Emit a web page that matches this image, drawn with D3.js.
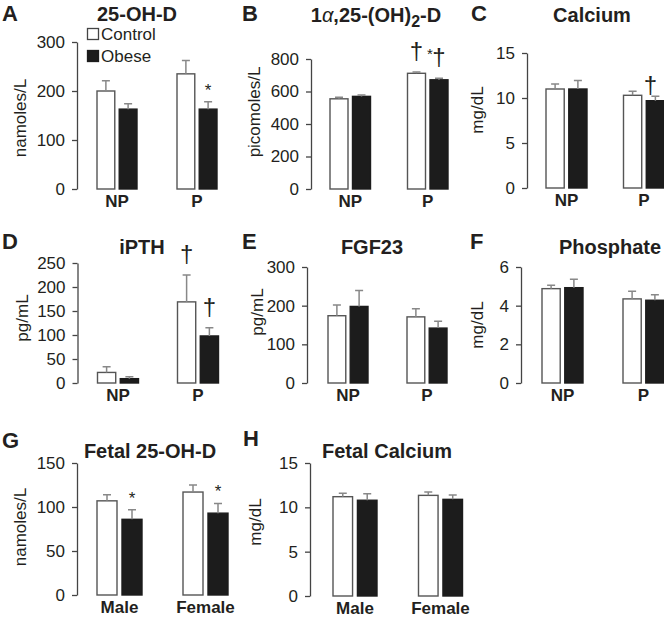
<!DOCTYPE html>
<html>
<head>
<meta charset="utf-8">
<script src="https://cdn.jsdelivr.net/npm/d3@7"></script>
<style>
  body { margin: 0; background: #fff; }
  text { font-family: "Liberation Sans", Arial, Helvetica, sans-serif; fill: #231f20; }
</style>
</head>
<body>
<svg id="chart" width="664" height="619"></svg>
<script>
// ---- data ----
const series = ["Control", "Obese"];
const maternalGroups = ["NP", "P"];
const fetalGroups = ["Male", "Female"];

// each row: [Control, Obese]
const ohdMean = [[200, 163], [235, 163]];
const ohdErr = [[21, 11], [27, 15]];
const ohdTicks = [0, 100, 200, 300];

const dihydroxyMean = [[555, 570], [712, 672]];
const dihydroxyErr = [[9, 8], [8, 10]];
const dihydroxyTicks = [0, 200, 400, 600, 800];

const calciumMean = [[11.0, 11.0], [10.3, 9.7]];
const calciumErr = [[0.55, 0.95], [0.45, 0.5]];
const calciumTicks = [0, 5, 10, 15];

const pthMean = [[22, 9], [169, 98]];
const pthErr = [[12, 4], [56, 17]];
const pthTicks = [0, 50, 100, 150, 200, 250];

const fgfMean = [[174, 198], [171, 142]];
const fgfErr = [[28, 41], [21, 18]];
const fgfTicks = [0, 100, 200, 300];

const phosMean = [[4.88, 4.93], [4.35, 4.28]];
const phosErr = [[0.17, 0.43], [0.39, 0.29]];
const phosTicks = [0, 2, 4, 6];

const fetalOhdMean = [[107, 86], [117, 93]];
const fetalOhdErr = [[7, 11], [8, 11]];
const fetalOhdTicks = [0, 50, 100, 150];

const fetalCaMean = [[11.2, 10.8], [11.35, 10.9]];
const fetalCaErr = [[0.38, 0.72], [0.38, 0.5]];
const fetalCaTicks = [0, 5, 10, 15];

// ---- layout ----
const panels = [
  { id: "A", title: "25-OH-D", unit: "namoles/L", groups: maternalGroups, mean: ohdMean, err: ohdErr, ticks: ohdTicks,
    ax: 77, top: 42, zero: 189, x0: 97, step: 80, bw: 40,
    letter: [2, 21], titlePos: [137, 21], unitPos: [20, 118] },
  { id: "B", title: "1α,25-(OH)2-D", unit: "picomoles/L", groups: maternalGroups, mean: dihydroxyMean, err: dihydroxyErr, ticks: dihydroxyTicks,
    ax: 311, top: 59, zero: 189, x0: 330, step: 77.5, bw: 40.5,
    letter: [242, 21], titlePos: [376, 22], unitPos: [254, 112] },
  { id: "C", title: "Calcium", unit: "mg/dL", groups: maternalGroups, mean: calciumMean, err: calciumErr, ticks: calciumTicks,
    ax: 527, top: 53, zero: 188, x0: 546, step: 77.5, bw: 41,
    letter: [471, 21], titlePos: [592, 22], unitPos: [477, 110] },
  { id: "D", title: "iPTH", unit: "pg/mL", groups: maternalGroups, mean: pthMean, err: pthErr, ticks: pthTicks,
    ax: 77.5, top: 263, zero: 383, x0: 97.5, step: 80, bw: 41,
    letter: [2, 249], titlePos: [142, 254], unitPos: [22, 318] },
  { id: "E", title: "FGF23", unit: "pg/mL", groups: maternalGroups, mean: fgfMean, err: fgfErr, ticks: fgfTicks,
    ax: 307, top: 267, zero: 383, x0: 328, step: 79, bw: 40,
    letter: [242, 249], titlePos: [372, 254], unitPos: [257, 312] },
  { id: "F", title: "Phosphate", unit: "mg/dL", groups: maternalGroups, mean: phosMean, err: phosErr, ticks: phosTicks,
    ax: 521, top: 267, zero: 383, x0: 542, step: 81, bw: 41,
    letter: [470, 249], titlePos: [610, 254], unitPos: [477, 325] },
  { id: "G", title: "Fetal 25-OH-D", unit: "namoles/L", groups: fetalGroups, mean: fetalOhdMean, err: fetalOhdErr, ticks: fetalOhdTicks,
    ax: 77, top: 463, zero: 595, x0: 97, step: 86, bw: 45,
    letter: [2, 448], titlePos: [150, 458], unitPos: [20, 527] },
  { id: "H", title: "Fetal Calcium", unit: "mg/dL", groups: fetalGroups, mean: fetalCaMean, err: fetalCaErr, ticks: fetalCaTicks,
    ax: 310, top: 463, zero: 596, x0: 333, step: 85.5, bw: 44,
    letter: [243, 446], titlePos: [387, 458], unitPos: [255, 522] }
];

// significance marks: group index, series index
const marks = [
  { id: "A", g: 1, s: 1, mark: "*" },
  { id: "B", g: 1, s: 0, mark: "†" },
  { id: "B", g: 1, s: 1, mark: "†", star: true },
  { id: "C", g: 1, s: 1, mark: "†", dx: -5, dy: 10 },
  { id: "D", g: 1, s: 0, mark: "†" },
  { id: "D", g: 1, s: 1, mark: "†" },
  { id: "G", g: 0, s: 1, mark: "*" },
  { id: "G", g: 1, s: 1, mark: "*" }
];

const svg = d3.select("#chart");

panels.forEach(p => {
  const g = svg.append("g");

  const y = d3.scaleLinear().domain([0, d3.max(p.ticks)]).range([p.zero, p.top]);
  const x = d3.scaleBand().domain(p.groups)
    .range([p.x0, p.x0 + p.step + p.bw])
    .paddingInner(1 - p.bw / p.step).paddingOuter(0);
  const xs = d3.scaleBand().domain(series).range([0, x.bandwidth()]).paddingInner(0.2);

  // y axis
  const axis = g.append("g")
    .attr("transform", `translate(${p.ax},0)`)
    .call(d3.axisLeft(y).tickValues(p.ticks).tickFormat(d3.format("d"))
      .tickSize(5).tickPadding(7).tickSizeOuter(0));
  axis.select(".domain").attr("stroke", "#444").attr("stroke-width", 1.3);
  axis.selectAll(".tick line").attr("stroke", "#444").attr("stroke-width", 1.3);
  axis.selectAll(".tick text").attr("font-size", 17).attr("fill", "#231f20")
    .attr("font-family", "'Liberation Sans', Arial, sans-serif");

  // bars
  const rows = [];
  p.groups.forEach((grp, gi) => series.forEach((s, si) => {
    rows.push({ grp, s, gi, si, v: p.mean[gi][si], e: p.err[gi][si] });
  }));

  g.selectAll(".bar").data(rows).enter().append("rect")
    .attr("x", d => x(d.grp) + xs(d.s))
    .attr("y", d => y(d.v))
    .attr("width", xs.bandwidth())
    .attr("height", d => p.zero - y(d.v))
    .attr("fill", d => d.si === 0 ? "#fff" : "#1c1c1c")
    .attr("stroke", d => d.si === 0 ? "#555" : "#1c1c1c")
    .attr("stroke-width", 1.4);

  // error bars (upper only)
  const cx = d => x(d.grp) + xs(d.s) + xs.bandwidth() / 2;
  g.selectAll(".err").data(rows).enter().append("path")
    .attr("d", d => `M${cx(d)},${y(d.v)}V${y(d.v + d.e)}M${cx(d) - 4},${y(d.v + d.e)}H${cx(d) + 4}`)
    .attr("fill", "none")
    .attr("stroke", "#888")
    .attr("stroke-width", 1.5);

  // group labels
  g.selectAll(".grp").data(p.groups).enter().append("text")
    .attr("x", d => x(d) + x.bandwidth() / 2)
    .attr("y", p.zero + 18)
    .attr("text-anchor", "middle")
    .attr("font-size", 17)
    .attr("font-weight", "bold")
    .text(d => d);

  // title
  const t = g.append("text")
    .attr("x", p.titlePos[0]).attr("y", p.titlePos[1])
    .attr("text-anchor", "middle")
    .attr("font-size", 20)
    .attr("font-weight", "bold");
  if (p.id === "B") {
    t.append("tspan").text("1");
    t.append("tspan").attr("font-weight", "normal").attr("font-style", "italic").text("α");
    t.append("tspan").text(",25-(OH)");
    t.append("tspan").attr("dy", 5).attr("font-size", 16).text("2");
    t.append("tspan").attr("dy", -5).text("-D");
  } else {
    t.text(p.title);
  }

  // panel letter
  g.append("text")
    .attr("x", p.letter[0]).attr("y", p.letter[1])
    .attr("font-size", 22)
    .attr("font-weight", "bold")
    .text(p.id);

  // unit label
  g.append("text")
    .attr("transform", `translate(${p.unitPos[0]},${p.unitPos[1]}) rotate(-90)`)
    .attr("text-anchor", "middle")
    .attr("dy", "0.35em")
    .attr("font-size", 17)
    .text(p.unit);

  // significance marks
  marks.filter(m => m.id === p.id).forEach(m => {
    const d = rows.find(r => r.gi === m.g && r.si === m.s);
    const top = y(d.v + d.e);
    const isStar = m.mark === "*";
    const bx = cx(d) + (m.dx || 0);
    const by = top - (isStar ? 6 : 13) + (m.dy || 0);
    g.append("text")
      .attr("x", bx).attr("y", by)
      .attr("text-anchor", "middle")
      .attr("font-size", isStar ? 17 : 24)
      .text(m.mark);
    if (m.star) {
      g.append("text")
        .attr("x", bx - 9).attr("y", by - 6)
        .attr("text-anchor", "middle")
        .attr("font-size", 15)
        .text("*");
    }
  });

  // legend in first panel
  if (p.id === "A") {
    const leg = g.append("g");
    series.forEach((s, i) => {
      leg.append("rect")
        .attr("x", 87.5).attr("y", 28.5 + i * 22)
        .attr("width", 11).attr("height", 11)
        .attr("fill", i === 0 ? "#fff" : "#1c1c1c")
        .attr("stroke", i === 0 ? "#444" : "#1c1c1c")
        .attr("stroke-width", 1.3);
      leg.append("text")
        .attr("x", 101).attr("y", 39.5 + i * 22)
        .attr("font-size", 17)
        .text(s);
    });
  }
});
</script>
</body>
</html>
